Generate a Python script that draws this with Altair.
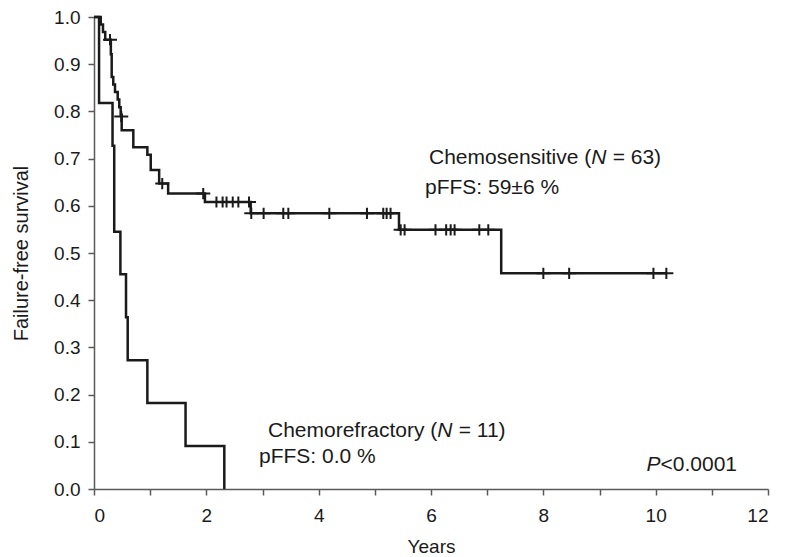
import altair as alt
import pandas as pd

# Chemosensitive (N = 63) step curve
sens_time = [0, 0.12, 0.16, 0.20, 0.30, 0.315, 0.343, 0.374, 0.422, 0.45, 0.475, 0.493,
             0.70, 0.95, 1.01, 1.16, 1.32, 1.975, 2.79, 5.43, 7.25, 10.19]
sens_surv = [1.0, 0.984, 0.968, 0.952, 0.921, 0.873, 0.857, 0.841, 0.825, 0.809, 0.793, 0.760,
             0.724, 0.708, 0.676, 0.647, 0.626, 0.608, 0.584, 0.549, 0.457, 0.457]
# Chemosensitive censored observations
sens_cens_time = [0.285, 0.485, 1.215, 1.945,
                  2.18, 2.29, 2.36, 2.47, 2.57, 2.76,
                  2.80, 3.02, 3.37, 3.46, 4.19, 4.86, 5.15, 5.21, 5.28,
                  5.46, 5.53, 6.08, 6.27, 6.35, 6.42, 6.86, 7.02,
                  8.00, 8.46, 9.96, 10.19]
sens_cens_surv = [0.952, 0.789, 0.647, 0.626,
                  0.608, 0.608, 0.608, 0.608, 0.608, 0.608,
                  0.584, 0.584, 0.584, 0.584, 0.584, 0.584, 0.584, 0.584, 0.584,
                  0.549, 0.549, 0.549, 0.549, 0.549, 0.549, 0.549, 0.549,
                  0.457, 0.457, 0.457, 0.457]

# Chemorefractory (N = 11) step curve
refr_time = [0, 0.09, 0.33, 0.36, 0.47, 0.57, 0.60, 0.95, 1.63, 2.32]
refr_surv = [1.0, 0.818, 0.727, 0.545, 0.455, 0.364, 0.273, 0.182, 0.091, 0.0]

y_ticks = [i / 10 for i in range(11)]
x_ticks = list(range(13))

curves = pd.concat([
    pd.DataFrame({"t": sens_time, "s": sens_surv, "group": "Chemosensitive"}),
    pd.DataFrame({"t": refr_time, "s": refr_surv, "group": "Chemorefractory"}),
])
cens = pd.DataFrame({"t": sens_cens_time, "s": sens_cens_surv})

FONT = "Liberation Sans"
INK = "#1a1a1a"
AXC = "#5a5a5a"
NB = "\u00a0"

x_enc = alt.X("t:Q", scale=alt.Scale(domain=[0, 12], nice=False, zero=True),
              axis=alt.Axis(values=x_ticks, format="d",
                            labelExpr="datum.value % 2 == 0 ? datum.label : ''",
                            title="Years", grid=False, tickSize=6, domainColor=AXC,
                            tickColor=AXC, domainWidth=1.5, tickWidth=1.5,
                            labelFontSize=19, titleFontSize=19, titleFontWeight="normal",
                            labelFont=FONT, titleFont=FONT, labelColor=INK, titleColor=INK,
                            labelPadding=11, titlePadding=12))
y_enc = alt.Y("s:Q", scale=alt.Scale(domain=[0, 1], nice=False),
              axis=alt.Axis(values=y_ticks, format=".1f", title="Failure-free survival",
                            grid=False, tickSize=6, domainColor=AXC, tickColor=AXC,
                            domainWidth=1.5, tickWidth=1.5,
                            labelFontSize=19, titleFontSize=20, titleFontWeight="normal",
                            labelFont=FONT, titleFont=FONT, labelColor=INK, titleColor=INK,
                            labelPadding=8, titlePadding=22))

lines = alt.Chart(curves).mark_line(interpolate="step-after", color=INK, strokeWidth=2.5).encode(
    x=x_enc, y=y_enc, detail="group:N")

marks = alt.Chart(cens).mark_point(
    shape="M-1,0H1M0,-0.8V0.8", size=196, filled=False, color=INK, strokeWidth=2, opacity=1
).encode(x="t:Q", y="s:Q")

FS = 21

def txt(s, x, y, italic=False, align="left", size=FS):
    return alt.Chart(pd.DataFrame({"a": [0]})).mark_text(
        text=s, align=align, baseline="alphabetic", font=FONT, fontSize=size, color=INK,
        fontStyle="italic" if italic else "normal"
    ).encode(x=alt.value(x), y=alt.value(y))

def w(em):
    return em * FS / 1000.0

# Chemosensitive label
x0, y0 = 335, 147
l1 = txt("Chemosensitive" + NB + "(", x0, y0)
l2 = txt("N", x0 + w(7724), y0, italic=True)
l3 = txt("=" + NB + "63)", x0 + w(7724 + 722 + 300), y0)
l4 = txt("pFFS:" + NB + "59\u00b16" + NB + "%", x0 - 4, y0 + 30)
# Chemorefractory label
x1, y1 = 174, 420
r1 = txt("Chemorefractory" + NB + "(", x1, y1)
r2 = txt("N", x1 + w(8057), y1, italic=True)
r3 = txt("=" + NB + "11)", x1 + w(8057 + 722 + 300), y1)
r4 = txt("pFFS:" + NB + "0.0" + NB + "%", x1 - 9, y1 + 26)
# P value
xr, yr = 643, 454
p2 = txt("<0.0001", xr, yr, align="right")
p1 = txt("P", xr - w(3642), yr, italic=True, align="right")

chart = alt.layer(lines, marks, l1, l2, l3, l4, r1, r2, r3, r4, p1, p2).properties(
    width=674, height=472,
    autosize=alt.AutoSizeParams(type="none"),
    padding={"left": 94, "top": 17, "right": 25, "bottom": 68},
).configure_view(stroke=None)

chart.save("out.html", embed_options={"renderer": "svg", "actions": False})
